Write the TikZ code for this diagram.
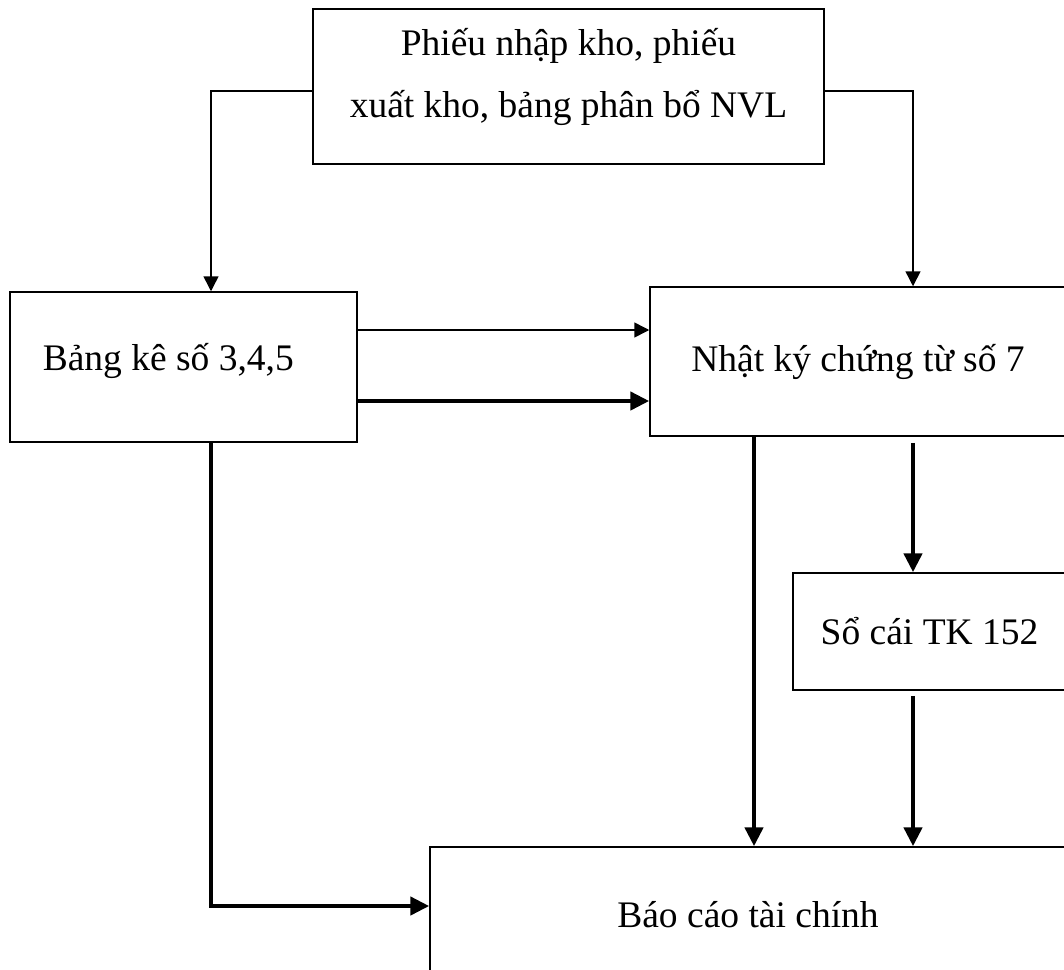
\documentclass[tikz,border=0pt]{standalone}
\usepackage{fontspec}
\setmainfont{Liberation Serif}
\usetikzlibrary{positioning, arrows.meta, calc}

\begin{document}
\begin{tikzpicture}[x=1pt, y=-1pt, font=\fontsize{37.5}{62}\selectfont,
    box/.style={draw, line width=1.5pt, inner sep=0pt},
    thinarr/.style={-{Triangle[length=15pt,width=15pt]}, line width=1.5pt},
    thickarr/.style={-{Triangle[length=19pt,width=18pt]}, line width=4.5pt}]
\useasboundingbox (0,0) rectangle (1064,969);
\clip (0,0) rectangle (1064,969);

% boxes
\node[box, minimum width=511pt, minimum height=155pt,
      label={[align=center, yshift=10pt]center:{Phiếu nhập kho, phiếu\\xuất kho, bảng phân bổ NVL}}]
      (phieu) at (568.5,86.5) {};
\node[box, minimum width=347pt, minimum height=150pt,
      label={[anchor=west, xshift=30pt, yshift=6pt]west:{Bảng kê số 3,4,5}}]
      (bangke) at (183.5,367) {};
\node[box, minimum width=416pt, minimum height=149pt] (nhatky) at (858,361.5) {Nhật ký chứng từ số 7};
\node[box, minimum width=273pt, minimum height=117pt] (socai) at (929.5,631.5) {Sổ cái TK 152};
\node[box, minimum width=636pt, minimum height=136pt] (baocao) at (748,915) {Báo cáo tài chính};

% thin lines from the top box
\draw[thinarr] ($(phieu.west)+(0,4.5)$) -| ($(bangke.north)+(27.5,0)$);
\draw[thinarr] ($(phieu.east)+(0,4.5)$) -| ($(nhatky.north)+(55,0)$);

% bang ke -> nhat ky
\coordinate (b1) at ($(bangke.east)+(0,-37)$);
\coordinate (b2) at ($(bangke.east)+(0,34)$);
\draw[thinarr] (b1) -- (b1 -| nhatky.west);
\draw[thickarr] (b2) -- (b2 -| nhatky.west);

% down to bao cao
\draw[thickarr] ($(bangke.south)+(27.5,0)$) |- ($(baocao.west)+(0,-9)$);
\coordinate (n1) at ($(nhatky.south)+(-104,0)$);
\draw[thickarr] (n1) -- (n1 |- baocao.north);
\coordinate (n2) at ($(nhatky.south)+(55,6)$);
\draw[thickarr] (n2) -- (n2 |- socai.north);
\coordinate (s1) at ($(socai.south)+(-16.5,5)$);
\draw[thickarr] (s1) -- (s1 |- baocao.north);
\end{tikzpicture}
\end{document}
